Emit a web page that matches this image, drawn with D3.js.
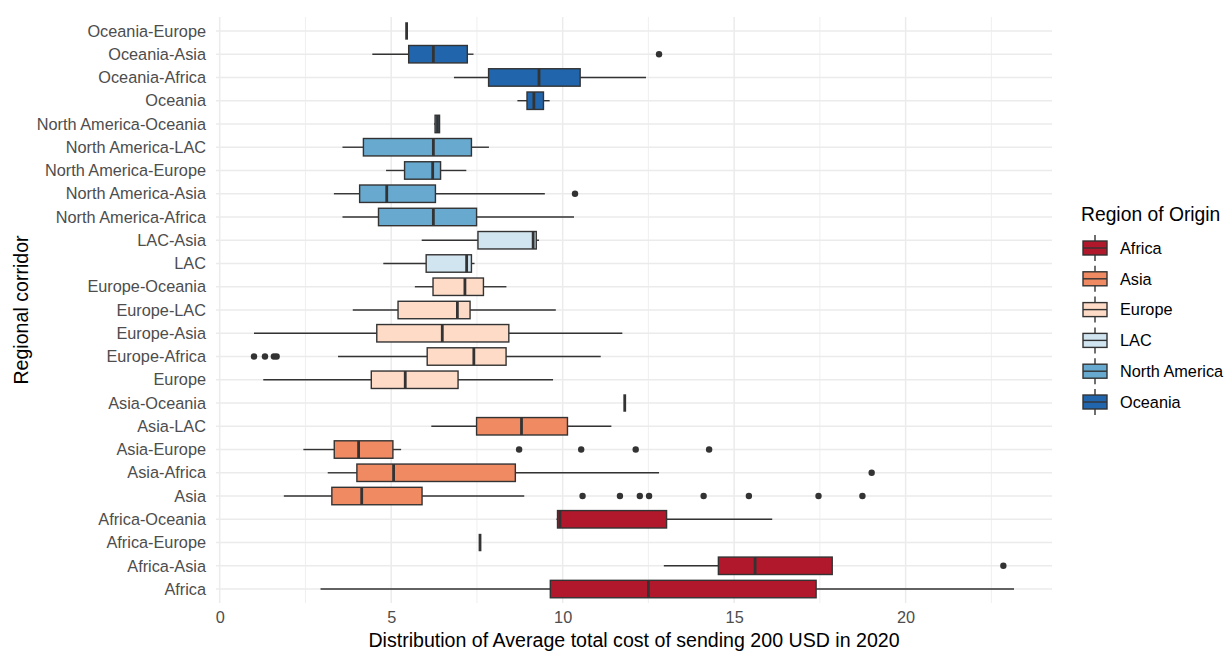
<!DOCTYPE html>
<html>
<head>
<meta charset="utf-8">
<script src="https://cdn.jsdelivr.net/npm/d3@7"></script>
<style>
  body { margin: 0; background: #fff; }
  svg { font-family: "Liberation Sans", Arial, sans-serif; }
</style>
</head>
<body>
<svg id="chart" width="1224" height="651"></svg>
<script>
// DATA (top row first)
var corridors = ["Oceania-Europe", "Oceania-Asia", "Oceania-Africa", "Oceania",
  "North America-Oceania", "North America-LAC", "North America-Europe", "North America-Asia", "North America-Africa",
  "LAC-Asia", "LAC",
  "Europe-Oceania", "Europe-LAC", "Europe-Asia", "Europe-Africa", "Europe",
  "Asia-Oceania", "Asia-LAC", "Asia-Europe", "Asia-Africa", "Asia",
  "Africa-Oceania", "Africa-Europe", "Africa-Asia", "Africa"];
var origins = ["Oceania", "Oceania", "Oceania", "Oceania",
  "North America", "North America", "North America", "North America", "North America",
  "LAC", "LAC",
  "Europe", "Europe", "Europe", "Europe", "Europe",
  "Asia", "Asia", "Asia", "Asia", "Asia",
  "Africa", "Africa", "Africa", "Africa"];
var whiskerLow  = [5.45, 4.45, 6.83, 8.68, 6.25, 3.58, 4.85, 3.33, 3.58, 5.89, 4.77, 5.69, 3.88, 1.00, 3.45, 1.27, 11.81, 6.17, 2.44, 3.15, 1.87, 9.82, 7.59, 12.95, 2.94];
var q1          = [5.45, 5.51, 7.84, 8.96, 6.28, 4.19, 5.39, 4.08, 4.63, 7.53, 6.02, 6.22, 5.20, 4.58, 6.05, 4.42, 11.81, 7.49, 3.34, 4.00, 3.27, 9.85, 7.59, 14.54, 9.64];
var median      = [5.45, 6.23, 9.31, 9.16, 6.35, 6.23, 6.21, 4.87, 6.23, 9.14, 7.20, 7.15, 6.93, 6.49, 7.41, 5.41, 11.81, 8.80, 4.05, 5.07, 4.14, 9.92, 7.59, 15.61, 12.50];
var q3          = [5.45, 7.22, 10.51, 9.44, 6.41, 7.34, 6.44, 6.29, 7.49, 9.23, 7.34, 7.69, 7.30, 8.43, 8.35, 6.95, 11.81, 10.14, 5.05, 8.62, 5.90, 13.03, 7.59, 17.86, 17.39];
var whiskerHigh = [5.45, 7.40, 12.43, 9.62, 6.41, 7.85, 7.19, 9.48, 10.33, 9.31, 7.43, 8.36, 9.80, 11.74, 11.11, 9.72, 11.81, 11.42, 5.29, 12.81, 8.88, 16.11, 7.59, 17.86, 23.16];
var outliers = [[], [12.81], [], [], [], [], [], [10.36], [], [], [], [], [], [],
  [1.00, 1.32, 1.58, 1.66], [], [], [],
  [8.73, 10.54, 12.13, 14.27], [19.01],
  [10.58, 11.67, 12.25, 12.52, 14.11, 15.43, 17.46, 18.74],
  [], [], [22.85], []];
var regions = ["Africa", "Asia", "Europe", "LAC", "North America", "Oceania"];
var regionColors = ["#b2182b", "#ef8a62", "#fddbc7", "#d1e5f0", "#67a9cf", "#2166ac"];
var xTicks = [0, 5, 10, 15, 20];
var xMinorTicks = [2.5, 7.5, 12.5, 17.5, 22.5];

// INITIALIZING D3 and GLOBALS
var svg = d3.select("#chart");
var panel = {left: 216, right: 1052, top: 17, bottom: 603};
var ink = "#333333";

var allValues = whiskerLow.concat(whiskerHigh).concat(d3.merge(outliers));
var lo = d3.min(allValues), hi = d3.max(allValues);
var pad = (hi - lo) * 0.05;

var x = d3.scaleLinear().domain([lo - pad, hi + pad]).range([panel.left, panel.right]);
var y = d3.scalePoint().domain(corridors).range([panel.top, panel.bottom]).padding(0.6);
var color = d3.scaleOrdinal().domain(regions).range(regionColors);
var boxH = y.step() * 0.75;

var rows = corridors.map(function(c, i) {
  return {name: c, origin: origins[i], lo: whiskerLow[i], q1: q1[i], med: median[i], q3: q3[i], hi: whiskerHigh[i], out: outliers[i]};
});

// grid
var grid = svg.append("g");
grid.selectAll("line.minor").data(xMinorTicks).enter().append("line")
    .attr("x1", x).attr("x2", x).attr("y1", panel.top).attr("y2", panel.bottom)
    .attr("stroke", "#ebebeb").attr("stroke-width", 0.8);
grid.selectAll("line.major").data(xTicks).enter().append("line")
    .attr("x1", x).attr("x2", x).attr("y1", panel.top).attr("y2", panel.bottom)
    .attr("stroke", "#ebebeb").attr("stroke-width", 1.5);
grid.selectAll("line.hor").data(corridors).enter().append("line")
    .attr("x1", panel.left).attr("x2", panel.right)
    .attr("y1", function(d) { return y(d); }).attr("y2", function(d) { return y(d); })
    .attr("stroke", "#ebebeb").attr("stroke-width", 1.5);

// boxes
var box = svg.append("g").selectAll("g").data(rows).enter().append("g")
    .attr("transform", function(d) { return "translate(0," + y(d.name) + ")"; });

box.append("line")
    .attr("x1", function(d) { return x(d.lo); }).attr("x2", function(d) { return x(d.q1); })
    .attr("stroke", ink).attr("stroke-width", 1.4);
box.append("line")
    .attr("x1", function(d) { return x(d.q3); }).attr("x2", function(d) { return x(d.hi); })
    .attr("stroke", ink).attr("stroke-width", 1.4);
box.append("rect")
    .attr("x", function(d) { return x(d.q1); })
    .attr("width", function(d) { return x(d.q3) - x(d.q1); })
    .attr("y", -boxH / 2).attr("height", boxH)
    .attr("fill", function(d) { return color(d.origin); })
    .attr("stroke", ink).attr("stroke-width", 1.4);
box.append("line")
    .attr("x1", function(d) { return x(d.med); }).attr("x2", function(d) { return x(d.med); })
    .attr("y1", -boxH / 2).attr("y2", boxH / 2)
    .attr("stroke", ink).attr("stroke-width", 2.8);
box.selectAll("circle").data(function(d) { return d.out; }).enter().append("circle")
    .attr("cx", function(d) { return x(d); }).attr("r", 3.2).attr("fill", ink);

// axes
var xAxis = svg.append("g").attr("transform", "translate(0," + (panel.bottom + 6) + ")")
    .call(d3.axisBottom(x).tickValues(xTicks).tickSize(0).tickPadding(2));
var yAxis = svg.append("g").attr("transform", "translate(" + (panel.left - 6) + ",0)")
    .call(d3.axisLeft(y).tickSize(0).tickPadding(4));
[xAxis, yAxis].forEach(function(a) {
  a.select(".domain").remove();
  a.selectAll("text").attr("fill", "#4d4d4d").style("font-size", "16.3px")
      .style("font-family", "'Liberation Sans', Arial, sans-serif");
});
xAxis.selectAll("text").attr("dy", "0.71em");

svg.append("text").attr("x", (panel.left + panel.right) / 2).attr("y", 647)
    .attr("text-anchor", "middle").style("font-size", "19.6px").attr("fill", "#000")
    .text("Distribution of Average total cost of sending 200 USD in 2020");
svg.append("text").attr("transform", "translate(28," + ((panel.top + panel.bottom) / 2) + ") rotate(-90)")
    .attr("text-anchor", "middle").style("font-size", "19.6px").attr("fill", "#000")
    .text("Regional corridor");

/* SECTION: legend */
var legend = svg.append("g").attr("transform", "translate(1081,0)");
legend.append("text").attr("x", 0).attr("y", 221).style("font-size", "19.3px").attr("fill", "#000")
    .text("Region of Origin");
var key = legend.selectAll("g.key").data(regions).enter().append("g")
    .attr("transform", function(d, i) { return "translate(0," + (248 + i * 30.8) + ")"; });
key.append("line").attr("x1", 14).attr("x2", 14).attr("y1", -13).attr("y2", 13)
    .attr("stroke", ink).attr("stroke-width", 1.4);
key.append("rect").attr("x", 2).attr("y", -7).attr("width", 24).attr("height", 14)
    .attr("fill", function(d) { return color(d); }).attr("stroke", ink).attr("stroke-width", 1.4);
key.append("line").attr("x1", 2).attr("x2", 26).attr("y1", 0).attr("y2", 0)
    .attr("stroke", ink).attr("stroke-width", 1.4);
key.append("text").attr("x", 39).attr("dy", "0.35em").style("font-size", "16.3px").attr("fill", "#000")
    .text(function(d) { return d; });
</script>
</body>
</html>
